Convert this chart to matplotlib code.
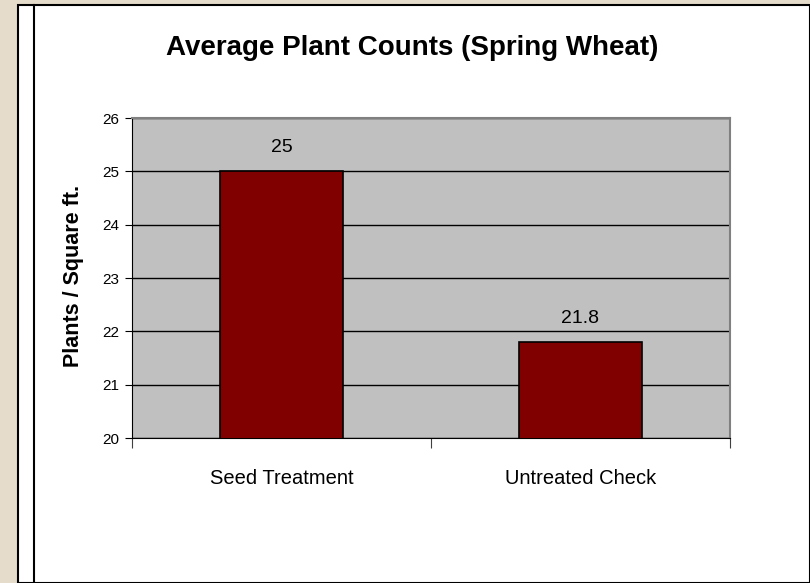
import matplotlib.pyplot as plt
from matplotlib.patches import Rectangle
from matplotlib.lines import Line2D

categories = ['Seed Treatment', 'Untreated Check']
counts = [25, 21.8]
labels = ['25', '21.8']
yticks = [20, 21, 22, 23, 24, 25, 26]

plt.rcParams['font.family'] = ['Liberation Sans', 'DejaVu Sans']

W, H = 810, 583
fig = plt.figure(figsize=(8.1, 5.83), dpi=100)
fig.patch.set_facecolor('#e6dccb')

# slide frame
fig.patches.append(Rectangle((18 / W, 0), (W - 18) / W, (H - 5) / H, transform=fig.transFigure,
                             facecolor='white', edgecolor='black', lw=1.5, zorder=-2))
fig.lines.append(Line2D([34 / W, 34 / W], [0, (H - 5) / H], transform=fig.transFigure,
                        color='black', lw=1.5, zorder=-1))

ax = fig.add_axes([132 / W, (H - 438) / H, (730 - 132) / W, (438 - 118) / H])
ax.set_zorder(2)
ax.set_facecolor('#c0c0c0')

x = list(range(len(categories)))
ax.bar(x, counts, width=0.41, color='#800000', edgecolor='black', lw=1.2, zorder=3)
for xi, v, lab in zip(x, counts, labels):
    ax.annotate(lab, (xi, v), xytext=(0, 17), textcoords='offset points',
                ha='center', va='center', fontsize=14)

ax.set_xlim(-0.5, 1.5)
ax.set_ylim(20, 26)
ax.set_yticks(yticks)
ax.tick_params(axis='y', direction='out', length=5, labelsize=11, pad=4)
ax.yaxis.grid(True, color='black', lw=1)
ax.set_axisbelow(True)

ax.set_xticks([-0.5, 0.5, 1.5])
ax.set_xticklabels([])
ax.set_xticks(x, minor=True)
ax.set_xticklabels(categories, minor=True, fontsize=14.5)
ax.tick_params(axis='x', which='major', direction='out', length=7, color='#404040')
ax.tick_params(axis='x', which='minor', length=0, pad=22)

for s in ['top', 'right']:
    ax.spines[s].set_color('#808080')
    ax.spines[s].set_linewidth(1.5)
for s in ['left', 'bottom']:
    ax.spines[s].set_color('black')

fig.text(412 / W, 1 - 48 / H, 'Average Plant Counts (Spring Wheat)', ha='center', va='center',
         fontsize=20, fontweight='bold')
fig.text(73 / W, 1 - 276 / H, 'Plants / Square ft.', rotation=90, ha='center', va='center',
         fontsize=15.5, fontweight='bold')

fig.savefig('out.png', dpi=100, facecolor=fig.get_facecolor())
